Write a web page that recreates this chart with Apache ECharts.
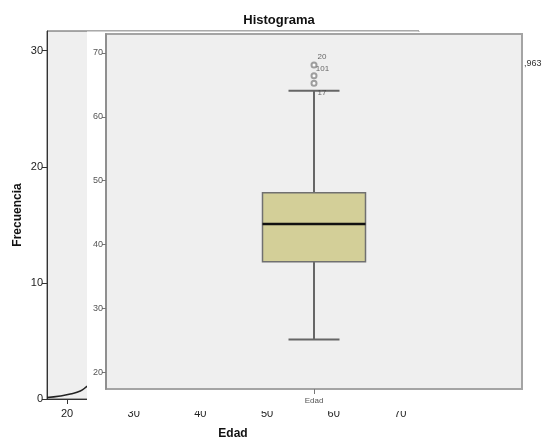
<!DOCTYPE html>
<html>
<head>
<meta charset="utf-8">
<script src="https://cdn.jsdelivr.net/npm/echarts@6/dist/echarts.min.js"></script>
<style>html,body{margin:0;padding:0;background:#fff}#c{width:544px;height:437px}</style>
</head>
<body>
<div id="c"></div>
<script>
// Histogram (background chart): visible part of the normal curve [Edad, Frecuencia]
var curveAge = [17.0, 19.0, 20.5, 22.0, 23.1, 24.5];
var curveFreq = [0.13, 0.26, 0.43, 0.69, 1.12, 1.5];
var histTitle = 'Histograma';
var histXName = 'Edad';
var histYName = 'Frecuencia';
var histXTicks = [20, 30, 40, 50, 60, 70];
var histYTicks = [0, 10, 20, 30];

// Boxplot (pasted on top)
var boxCategories = ['Edad'];
var boxYTicks = [20, 30, 40, 50, 60, 70];
var boxLow = [25.1];
var boxQ1 = [37.3];
var boxMedian = [43.2];
var boxQ3 = [48.1];
var boxHigh = [64.1];
var outlierValues = [68.12, 66.44, 65.25];
var caseLabels = ['20', '101', '17'];
var caseLabelValues = [68.12, 68.12, 64.1];
var stdText = ',963';

var FONT = 'Liberation Sans, Arial, sans-serif';
var chart = echarts.init(document.getElementById('c'), null, {renderer: 'canvas'});

var curveData = curveAge.map(function (a, i) { return [a, curveFreq[i]]; });
var boxData = boxCategories.map(function (c, i) {
  return [i, boxLow[i], boxQ1[i], boxMedian[i], boxQ3[i], boxHigh[i]];
});
var caseOffsets = [[8, -8.3], [8.5, 4], [8, 2]];
var caseData = caseLabels.map(function (l, i) {
  return {
    value: [boxCategories[0], caseLabelValues[i]],
    label: {show: true, formatter: l, position: 'inside', offset: caseOffsets[i]}
  };
});

var option = {
  animation: false,
  grid: [
    {left: 47, top: 31, right: 125, bottom: 38, show: true, backgroundColor: '#efefef',
     borderColor: '#555', borderWidth: 1, z: 0, containLabel: false, outerBoundsMode: 'none'},
    {left: 106, top: 34, right: 22, bottom: 48, show: true, backgroundColor: '#efefef',
     borderColor: '#a4a4a4', borderWidth: 2, z: 20, containLabel: false, outerBoundsMode: 'none'}
  ],
  graphic: [
    {type: 'rect', z: 10, shape: {x: 87, y: 31.5, width: 437, height: 379.5}, style: {fill: '#ffffff'}},
    {type: 'text', z: 30, x: 279, y: 20, style: {text: histTitle, font: 'bold 13px ' + FONT, fill: '#111', textAlign: 'center', textVerticalAlign: 'middle'}},
    {type: 'text', z: 30, x: 524, y: 64, style: {text: stdText, font: '9px ' + FONT, fill: '#333', textAlign: 'left', textVerticalAlign: 'middle'}}
  ],
  xAxis: [
    {type: 'value', gridIndex: 0, min: 17, max: 72.8, z: 0,
     name: histXName, nameLocation: 'middle', nameGap: 29, nameMoveOverlap: false,
     nameTextStyle: {fontFamily: FONT, fontWeight: 'bold', fontSize: 12, color: '#111'},
     axisLine: {show: true, lineStyle: {color: '#333', width: 1}},
     axisTick: {show: true, length: 5, customValues: histXTicks, lineStyle: {color: '#333'}},
     axisLabel: {fontFamily: FONT, fontSize: 11, color: '#222', margin: 9, customValues: histXTicks},
     splitLine: {show: false}},
    {type: 'category', gridIndex: 1, data: boxCategories, z: 21,
     axisLine: {show: false},
     axisTick: {show: true, alignWithLabel: true, length: 5, lineStyle: {color: '#777', width: 1}},
     axisLabel: {fontFamily: FONT, fontSize: 8, color: '#555', margin: 8},
     splitLine: {show: false}}
  ],
  yAxis: [
    {type: 'value', gridIndex: 0, min: 0, max: 31.7, z: 0,
     name: histYName, nameLocation: 'middle', nameGap: 23, nameRotate: 90, nameMoveOverlap: false,
     nameTextStyle: {fontFamily: FONT, fontWeight: 'bold', fontSize: 12, color: '#111'},
     axisLine: {show: true, lineStyle: {color: '#333', width: 1}},
     axisTick: {show: true, length: 5, customValues: histYTicks, lineStyle: {color: '#333'}},
     axisLabel: {fontFamily: FONT, fontSize: 11, color: '#222', margin: 4, customValues: histYTicks},
     splitLine: {show: false}},
    {type: 'value', gridIndex: 1, min: 17.34, max: 72.98, z: 21,
     axisLine: {show: true, lineStyle: {color: '#888', width: 1.5}},
     axisTick: {show: true, length: 4, customValues: boxYTicks, lineStyle: {color: '#777'}},
     axisLabel: {fontFamily: FONT, fontSize: 9, color: '#555', margin: 3, customValues: boxYTicks},
     splitLine: {show: false}}
  ],
  series: [
    {type: 'line', xAxisIndex: 0, yAxisIndex: 0, data: curveData, smooth: true, symbol: 'none', z: 1,
     lineStyle: {color: '#222', width: 1.5}},
    {type: 'custom', xAxisIndex: 1, yAxisIndex: 1, data: boxData, z: 22,
     renderItem: function (params, api) {
       var x = api.value(0);
       var pLow = api.coord([x, api.value(1)]);
       var pQ1 = api.coord([x, api.value(2)]);
       var pMed = api.coord([x, api.value(3)]);
       var pQ3 = api.coord([x, api.value(4)]);
       var pHigh = api.coord([x, api.value(5)]);
       var cx = pQ1[0];
       var hw = 51.5, cw = 25.5;
       var lineSt = {stroke: '#666', lineWidth: 2};
       return {type: 'group', children: [
         {type: 'line', shape: {x1: cx, y1: pHigh[1], x2: cx, y2: pQ3[1]}, style: lineSt},
         {type: 'line', shape: {x1: cx, y1: pQ1[1], x2: cx, y2: pLow[1]}, style: lineSt},
         {type: 'line', shape: {x1: cx - cw, y1: pHigh[1], x2: cx + cw, y2: pHigh[1]}, style: lineSt},
         {type: 'line', shape: {x1: cx - cw, y1: pLow[1], x2: cx + cw, y2: pLow[1]}, style: lineSt},
         {type: 'rect', shape: {x: cx - hw, y: pQ3[1], width: 2 * hw, height: pQ1[1] - pQ3[1]},
          style: {fill: '#d3cf98', stroke: '#707070', lineWidth: 1.5}},
         {type: 'line', shape: {x1: cx - hw, y1: pMed[1], x2: cx + hw, y2: pMed[1]}, style: {stroke: '#111', lineWidth: 2.5}}
       ]};
     }},
    {type: 'scatter', xAxisIndex: 1, yAxisIndex: 1, z: 23, symbol: 'emptyCircle', symbolSize: 5,
     itemStyle: {color: '#888', borderColor: '#888', borderWidth: 1},
     data: outlierValues.map(function (v) { return [boxCategories[0], v]; })},
    {type: 'scatter', xAxisIndex: 1, yAxisIndex: 1, z: 24, symbolSize: 0,
     label: {fontFamily: FONT, fontSize: 8, color: '#444'},
     data: caseData}
  ]
};
chart.setOption(option);
</script>
</body>
</html>
